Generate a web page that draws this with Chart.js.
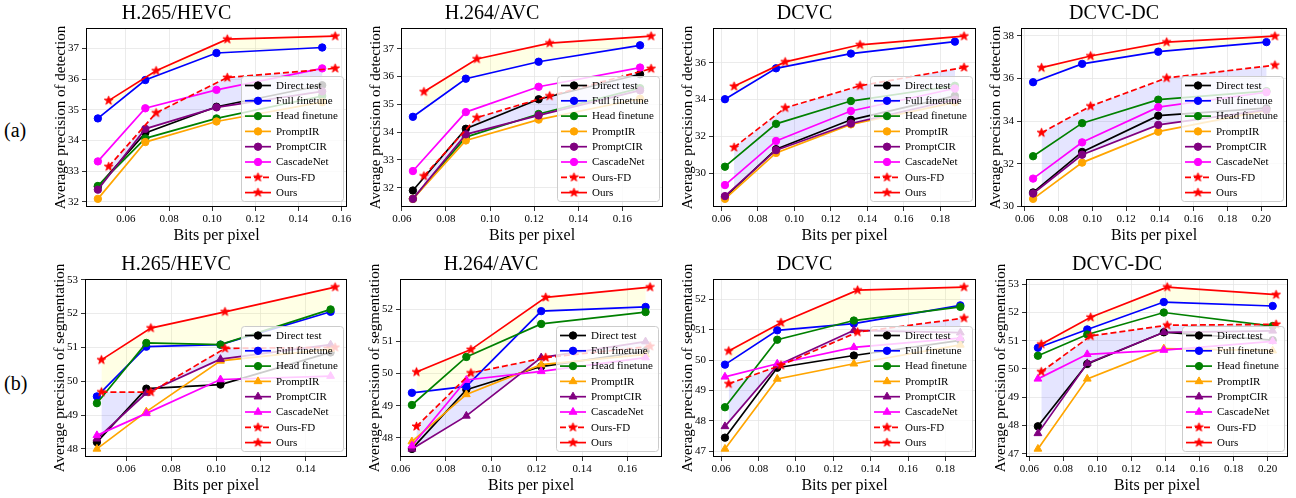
<!DOCTYPE html>
<html>
<head>
<meta charset="utf-8">
<script src="https://cdn.jsdelivr.net/npm/chart.js@4.4.1/dist/chart.umd.min.js"></script>
<style>
  body { margin: 0; background: #fff; width: 1296px; height: 498px; position: relative; overflow: hidden; font-family: "Liberation Serif", "Times New Roman", serif; }
  .panel { position: absolute; }
  .rowlab { position: absolute; font-size: 20px; line-height: 20px; color: #000; }
</style>
</head>
<body>
<div class="rowlab" style="left:4px;top:120px">(a)</div>
<div class="rowlab" style="left:4px;top:373px">(b)</div>
<script>
// ---------------- data ----------------
const methods = ["Direct test", "Full finetune", "Head finetune", "PromptIR", "PromptCIR", "CascadeNet", "Ours-FD", "Ours"];

// rows follow the order of `methods`
const hevcDetBpp = [0.047, 0.069, 0.102, 0.151];
const hevcDetOursBpp = [0.052, 0.074, 0.107, 0.157];
const hevcDetAP = [
  [32.5, 34.25, 35.1, 35.8],
  [34.72, 35.97, 36.85, 37.03],
  [32.52, 34.07, 34.72, 35.45],
  [32.1, 33.95, 34.62, 35.25],
  [32.4, 34.38, 35.08, 35.6],
  [33.32, 35.05, 35.65, 36.35],
  [33.15, 34.9, 36.05, 36.35],
  [35.3, 36.27, 37.3, 37.4]
];

const avcDetBpp = [0.065, 0.089, 0.122, 0.168];
const avcDetOursBpp = [0.070, 0.094, 0.127, 0.173];
const avcDetAP = [
  [31.9, 34.12, 35.18, 36.08],
  [34.55, 35.92, 36.53, 37.12],
  [31.6, 33.82, 34.65, 35.58],
  [31.6, 33.7, 34.45, 35.2],
  [31.6, 33.92, 34.6, 35.5],
  [32.6, 34.72, 35.63, 36.32],
  [32.42, 34.52, 35.3, 36.28],
  [35.45, 36.63, 37.2, 37.45]
];

const dcvcDetBpp = [0.062, 0.090, 0.131, 0.188];
const dcvcDetOursBpp = [0.067, 0.095, 0.136, 0.193];
const dcvcDetAP = [
  [28.7, 31.3, 32.9, 34.2],
  [34.02, 35.7, 36.5, 37.15],
  [30.35, 32.68, 33.92, 34.75],
  [28.6, 31.1, 32.65, 33.85],
  [28.75, 31.25, 32.7, 34.0],
  [29.35, 31.75, 33.38, 34.6],
  [31.4, 33.55, 34.75, 35.75],
  [34.72, 36.05, 36.98, 37.45]
];

const dcvcdcDetBpp = [0.065, 0.094, 0.139, 0.203];
const dcvcdcDetOursBpp = [0.070, 0.099, 0.144, 0.208];
const dcvcdcDetAP = [
  [30.65, 32.55, 34.25, 34.6],
  [35.82, 36.68, 37.25, 37.7],
  [32.35, 33.9, 35.0, 35.4],
  [30.35, 32.05, 33.5, 34.5],
  [30.6, 32.42, 33.82, 34.52],
  [31.3, 33.0, 34.65, 35.35],
  [33.45, 34.7, 36.02, 36.62],
  [36.5, 37.05, 37.7, 37.98]
];

const hevcSegBpp = [0.047, 0.069, 0.102, 0.151];
const hevcSegOursBpp = [0.049, 0.071, 0.104, 0.153];
const hevcSegAP = [
  [48.2, 49.78, 49.9, 50.85],
  [49.55, 51.02, 51.08, 52.05],
  [49.35, 51.13, 51.08, 52.12],
  [48.0, 49.1, 50.6, 50.95],
  [48.3, 49.65, 50.65, 51.08],
  [48.4, 49.05, 50.05, 50.15],
  [49.68, 49.68, 50.97, 51.0],
  [50.63, 51.57, 52.05, 52.78]
];

const avcSegBpp = [0.065, 0.089, 0.122, 0.168];
const avcSegOursBpp = [0.067, 0.091, 0.124, 0.170];
const avcSegAP = [
  [47.65, 49.5, 50.22, 50.7],
  [49.4, 49.6, 51.95, 52.08],
  [49.02, 50.52, 51.55, 51.92],
  [47.88, 49.35, 50.28, 50.6],
  [47.65, 48.68, 50.5, 51.0],
  [47.75, 49.8, 50.07, 50.5],
  [48.35, 50.02, 50.5, 50.85],
  [50.05, 50.75, 52.38, 52.7]
];

const dcvcSegBpp = [0.062, 0.090, 0.131, 0.188];
const dcvcSegOursBpp = [0.064, 0.092, 0.133, 0.190];
const dcvcSegAP = [
  [47.45, 49.75, 50.15, 50.65],
  [49.85, 50.98, 51.2, 51.8],
  [48.45, 50.67, 51.3, 51.75],
  [47.08, 49.38, 49.88, 50.5],
  [47.82, 49.82, 50.98, 50.9],
  [49.45, 49.88, 50.42, 50.72],
  [49.22, 49.83, 50.92, 51.38],
  [50.3, 51.23, 52.3, 52.4]
];

const dcvcdcSegBpp = [0.065, 0.094, 0.139, 0.203];
const dcvcdcSegOursBpp = [0.067, 0.096, 0.141, 0.205];
const dcvcdcSegAP = [
  [47.97, 50.18, 51.3, 51.02],
  [50.75, 51.4, 52.37, 52.23],
  [50.47, 51.22, 52.0, 51.52],
  [47.17, 49.65, 50.72, 50.65],
  [47.72, 50.2, 51.3, 51.35],
  [49.65, 50.52, 50.67, 50.98],
  [49.9, 51.17, 51.55, 51.58],
  [50.88, 51.83, 52.9, 52.63]
];

// tick labels
const xTicksTo14 = [0.06, 0.08, 0.10, 0.12, 0.14];
const xTicksTo16 = [0.06, 0.08, 0.10, 0.12, 0.14, 0.16];
const xTicksTo18 = [0.06, 0.08, 0.10, 0.12, 0.14, 0.16, 0.18];
const xTicksTo20 = [0.06, 0.08, 0.10, 0.12, 0.14, 0.16, 0.18, 0.20];
const yTicks32to37 = [32, 33, 34, 35, 36, 37];
const yTicks30to36 = [30, 32, 34, 36];
const yTicks30to38 = [30, 32, 34, 36, 38];
const yTicks48to53 = [48, 49, 50, 51, 52, 53];
const yTicks48to52 = [48, 49, 50, 51, 52];
const yTicks47to52 = [47, 48, 49, 50, 51, 52];
const yTicks47to53 = [47, 48, 49, 50, 51, 52, 53];

// ---------------- look ----------------
const FONT = '"Liberation Serif", "Times New Roman", serif';
const lineColors = ["#000000", "#0000ff", "#008000", "#ffa500", "#800080", "#ff00ff", "#ff0000", "#ff0000"];
const DET_LABEL = "Average precision of detection";
const SEG_LABEL = "Average precision of segmentation";

// plot box = [left, top, right, bottom] in page pixels
const panels = [
  { title: "H.265/HEVC", task: "det", box: [86, 28, 347, 207], bpp: hevcDetBpp, oursBpp: hevcDetOursBpp, ap: hevcDetAP, xTicks: xTicksTo16, yTicks: yTicks32to37 },
  { title: "H.264/AVC", task: "det", box: [401, 28, 663, 207], bpp: avcDetBpp, oursBpp: avcDetOursBpp, ap: avcDetAP, xTicks: xTicksTo16, yTicks: yTicks32to37 },
  { title: "DCVC", task: "det", box: [713, 28, 976, 207], bpp: dcvcDetBpp, oursBpp: dcvcDetOursBpp, ap: dcvcDetAP, xTicks: xTicksTo18, yTicks: yTicks30to36 },
  { title: "DCVC-DC", task: "det", box: [1021, 28, 1287, 207], bpp: dcvcdcDetBpp, oursBpp: dcvcdcDetOursBpp, ap: dcvcdcDetAP, xTicks: xTicksTo20, yTicks: yTicks30to38 },
  { title: "H.265/HEVC", task: "seg", box: [85, 279, 347, 457], bpp: hevcSegBpp, oursBpp: hevcSegOursBpp, ap: hevcSegAP, xTicks: xTicksTo14, yTicks: yTicks48to53 },
  { title: "H.264/AVC", task: "seg", box: [400, 279, 662, 457], bpp: avcSegBpp, oursBpp: avcSegOursBpp, ap: avcSegAP, xTicks: xTicksTo16, yTicks: yTicks48to52 },
  { title: "DCVC", task: "seg", box: [713, 279, 976, 457], bpp: dcvcSegBpp, oursBpp: dcvcSegOursBpp, ap: dcvcSegAP, xTicks: xTicksTo18, yTicks: yTicks47to52 },
  { title: "DCVC-DC", task: "seg", box: [1026, 279, 1288, 457], bpp: dcvcdcSegBpp, oursBpp: dcvcdcSegOursBpp, ap: dcvcdcSegAP, xTicks: xTicksTo20, yTicks: yTicks47to53 }
];

// filled 5-point star used as point style
function starMarker(r, color) {
  const c = document.createElement("canvas");
  const s = Math.ceil(2 * r + 3);
  c.width = c.height = s;
  const g = c.getContext("2d");
  g.beginPath();
  for (let k = 0; k < 10; k++) {
    const rad = k % 2 ? r * 0.382 : r;
    const a = -Math.PI / 2 + k * Math.PI / 5;
    g.lineTo(s / 2 + rad * Math.cos(a), s / 2 + rad * Math.sin(a));
  }
  g.closePath();
  g.fillStyle = color;
  g.fill();
  g.strokeStyle = color;
  g.lineWidth = 1;
  g.stroke();
  return c;
}
const star = starMarker(4.6, "#ff0000");

// matplotlib-like 5% margins
function limits(rows, xsA, xsB) {
  const ys = rows.flat();
  const xs = xsA.concat(xsB);
  const pad = (lo, hi) => [lo - (hi - lo) * 0.05, hi + (hi - lo) * 0.05];
  return { x: pad(Math.min(...xs), Math.max(...xs)), y: pad(Math.min(...ys), Math.max(...ys)) };
}

// legend inside the axes (lower right) + full axes frame
const frameAndLegend = {
  id: "frameAndLegend",
  afterDraw(chart) {
    const { ctx, chartArea: a } = chart;
    const items = chart.data.datasets;
    ctx.save();
    ctx.font = `11px ${FONT}`;
    const textW = Math.max(...items.map(d => ctx.measureText(d.label).width));
    const w = Math.round(4 + 26 + 5 + textW + 5);
    const h = 125;
    const x0 = Math.round(a.right - 4 - w);
    const y0 = Math.round(a.bottom - 6 - h);
    ctx.beginPath();
    if (ctx.roundRect) ctx.roundRect(x0 + 0.5, y0 + 0.5, w, h, 3);
    else ctx.rect(x0 + 0.5, y0 + 0.5, w, h);
    ctx.fillStyle = "rgba(255,255,255,0.8)";
    ctx.fill();
    ctx.strokeStyle = "#cccccc";
    ctx.lineWidth = 1;
    ctx.stroke();

    items.forEach((d, i) => {
      const y = y0 + 9.5 + i * 15.3;
      ctx.beginPath();
      ctx.setLineDash(d.borderDash || []);
      ctx.strokeStyle = d.borderColor;
      ctx.lineWidth = d.borderWidth;
      ctx.moveTo(x0 + 4, y);
      ctx.lineTo(x0 + 30, y);
      ctx.stroke();
      ctx.setLineDash([]);
      ctx.fillStyle = d.pointBackgroundColor;
      ctx.strokeStyle = d.pointBorderColor;
      ctx.lineWidth = 1;
      Chart.helpers.drawPoint(ctx, { pointStyle: d.pointStyle, radius: d.pointRadius, borderWidth: 1, rotation: 0 }, x0 + 17, y);
      ctx.fillStyle = "#000";
      ctx.textBaseline = "middle";
      ctx.textAlign = "left";
      ctx.fillText(d.label, x0 + 35, y + 0.5);
    });

    ctx.strokeStyle = "#000";
    ctx.lineWidth = 1;
    ctx.strokeRect(a.left + 0.5, a.top + 0.5, a.right - a.left - 1, a.bottom - a.top - 1);
    ctx.restore();
  }
};

const padL = 80, padT = 28, padR = 14, padB = 45;

panels.forEach(p => {
  const [L, T, R, B] = p.box;
  const W = R - L + padL + padR;
  const H = B - T + padT + padB;
  const wrap = document.createElement("div");
  wrap.className = "panel";
  wrap.style.cssText = `left:${L - padL}px;top:${T - padT}px;width:${W}px;height:${H}px`;
  const cv = document.createElement("canvas");
  cv.width = W;
  cv.height = H;
  wrap.appendChild(cv);
  document.body.appendChild(wrap);

  const lim = limits(p.ap, p.bpp, p.oursBpp);

  const datasets = methods.map((name, i) => {
    const xs = i >= 6 ? p.oursBpp : p.bpp;
    const marker = i >= 6 ? star : (p.task === "seg" && i >= 3 ? "triangle" : "circle");
    return {
      label: name,
      data: xs.map((x, k) => ({ x, y: p.ap[i][k] })),
      borderColor: lineColors[i],
      backgroundColor: i === 7 ? "rgba(255,255,0,0.1)" : "rgba(0,0,255,0.1)",
      fill: i === 7 ? { target: 1 } : (i === 6 ? { target: 4 } : false),
      borderWidth: 1.7,
      borderDash: i === 6 ? [6, 3] : [],
      pointStyle: marker,
      pointRadius: marker === "triangle" ? 4.5 : 3.7,
      pointBackgroundColor: lineColors[i],
      pointBorderColor: lineColors[i],
      pointBorderWidth: 1,
      tension: 0,
      order: methods.length - 1 - i
    };
  });

  new Chart(cv, {
    type: "line",
    data: { datasets },
    options: {
      responsive: false,
      animation: false,
      devicePixelRatio: 1,
      events: [],
      layout: { padding: { left: 0, top: 0, right: padR, bottom: 0 } },
      plugins: {
        legend: { display: false },
        tooltip: { enabled: false },
        filler: { drawTime: "beforeDatasetsDraw" },
        title: {
          display: true,
          text: p.title,
          color: "#000",
          font: { family: FONT, size: 20, weight: "normal" },
          padding: { top: 2, bottom: 2 }
        }
      },
      scales: {
        x: {
          type: "linear",
          min: lim.x[0],
          max: lim.x[1],
          afterFit: s => { s.width = W; s.height = padB; },
          afterBuildTicks: s => { s.ticks = p.xTicks.map(v => ({ value: v })); },
          ticks: {
            color: "#000",
            font: { family: FONT, size: 11 },
            padding: 2,
            maxRotation: 0,
            autoSkip: false,
            callback: v => Number(v).toFixed(2)
          },
          grid: { color: "#e6e6e6", lineWidth: 0.8, tickColor: "#000", tickLength: 4, drawTicks: true },
          border: { display: false },
          title: {
            display: true,
            text: "Bits per pixel",
            color: "#000",
            font: { family: FONT, size: 16 },
            padding: { top: 0, bottom: 6.5 }
          }
        },
        y: {
          type: "linear",
          min: lim.y[0],
          max: lim.y[1],
          afterFit: s => { s.width = padL; },
          afterBuildTicks: s => { s.ticks = p.yTicks.map(v => ({ value: v })); },
          ticks: {
            color: "#000",
            font: { family: FONT, size: 11 },
            padding: 3,
            autoSkip: false,
            callback: v => String(v)
          },
          grid: { color: "#e6e6e6", lineWidth: 0.8, tickColor: "#000", tickLength: 4, drawTicks: true },
          border: { display: false },
          title: {
            display: true,
            text: p.task === "det" ? DET_LABEL : SEG_LABEL,
            color: "#000",
            font: { family: FONT, size: 15 },
            padding: { top: 46, bottom: 0 }
          }
        }
      }
    },
    plugins: [frameAndLegend]
  });
});
</script>
</body>
</html>
